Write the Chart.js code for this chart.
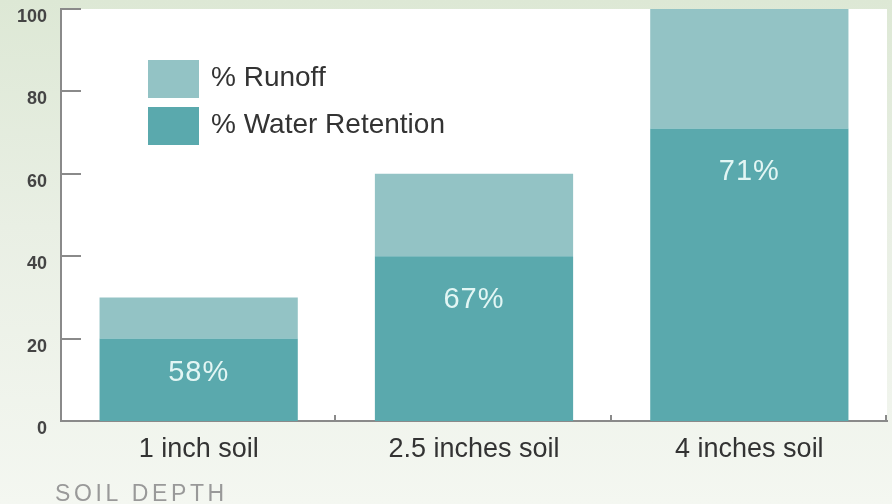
<!DOCTYPE html>
<html>
<head>
<meta charset="utf-8">
<script src="https://cdn.jsdelivr.net/npm/chart.js@4"></script>
<style>
  html, body { margin: 0; padding: 0; }
  body {
    width: 892px; height: 504px; overflow: hidden;
    background: linear-gradient(180deg, #dde8d5 0%, #e9efe4 45%, #f4f7f1 100%);
  }
  #myChart { display: block; }
</style>
</head>
<body>
<canvas id="myChart" width="892" height="504"></canvas>
<script>
const categories = ['1 inch soil', '2.5 inches soil', '4 inches soil'];
const retention = [20, 40, 71];
const runoff = [10, 20, 29];
const retentionLabels = ['58%', '67%', '71%'];
const yTicks = [0, 20, 40, 60, 80, 100];

const ctx = document.getElementById('myChart');

const axisColor = '#8a8a8a';

const decor = {
  id: 'decor',
  beforeDraw(chart) {
    const a = chart.chartArea;
    const c = chart.ctx;
    c.save();
    c.fillStyle = '#ffffff';
    c.fillRect(a.left, a.top, a.right - a.left, a.bottom - a.top);
    c.restore();
  },
  afterDatasetsDraw(chart) {
    const c = chart.ctx;
    // labels inside the retention bars
    const meta = chart.getDatasetMeta(0);
    c.save();
    c.fillStyle = '#e3f6f4';
    c.font = '29px "Liberation Sans", Arial, sans-serif';
    c.letterSpacing = '1px';
    c.textAlign = 'center';
    c.textBaseline = 'middle';
    meta.data.forEach((bar, i) => {
      const h = bar.base - bar.y;
      c.fillText(retentionLabels[i], bar.x, bar.y + Math.min(44, h * 0.42));
    });
    c.restore();
  },
  afterDraw(chart) {
    const c = chart.ctx;
    const a = chart.chartArea;
    const y = chart.scales.y;
    const x = chart.scales.x;
    c.save();
    c.strokeStyle = axisColor;
    c.lineWidth = 2;
    // y tick marks pointing into the plot
    y.ticks.forEach(t => {
      if (t.value === 0) return;
      const py = Math.round(y.getPixelForValue(t.value));
      c.beginPath();
      c.moveTo(a.left, py);
      c.lineTo(a.left + 20, py);
      c.stroke();
    });
    // x tick marks between categories
    const half = (x.getPixelForValue(1) - x.getPixelForValue(0)) / 2;
    categories.forEach((cat, i) => {
      const px = Math.round(x.getPixelForValue(i) + half) - 1;
      c.beginPath();
      c.moveTo(px, a.bottom);
      c.lineTo(px, a.bottom - 6);
      c.stroke();
    });
    c.restore();

    // legend
    const items = [
      { text: '% Runoff', color: chart.data.datasets[1].backgroundColor },
      { text: '% Water Retention', color: chart.data.datasets[0].backgroundColor }
    ];
    c.save();
    c.font = '28px "Liberation Sans", Arial, sans-serif';
    c.textBaseline = 'middle';
    items.forEach((it, i) => {
      const by = 60 + i * 47;
      c.fillStyle = it.color;
      c.fillRect(148, by, 51, 38);
      c.fillStyle = '#333333';
      c.fillText(it.text, 211, by + 18);
    });
    c.restore();

    // axis title
    c.save();
    c.font = '23px "Liberation Sans", Arial, sans-serif';
    c.letterSpacing = '3.6px';
    c.fillStyle = '#999999';
    c.textBaseline = 'alphabetic';
    c.fillText('SOIL DEPTH', 55, 501);
    c.restore();
  }
};

new Chart(ctx, {
  type: 'bar',
  data: {
    labels: categories,
    datasets: [
      {
        label: '% Water Retention',
        data: retention,
        backgroundColor: '#5aa9ad',
        borderWidth: 0,
        categoryPercentage: 0.72,
        barPercentage: 1
      },
      {
        label: '% Runoff',
        data: runoff,
        backgroundColor: '#93c3c5',
        borderWidth: 0,
        categoryPercentage: 0.72,
        barPercentage: 1
      }
    ]
  },
  options: {
    responsive: false,
    animation: false,
    layout: { padding: { top: 9, right: 5, left: 0, bottom: 0 } },
    plugins: {
      legend: { display: false },
      tooltip: { enabled: false }
    },
    scales: {
      x: {
        stacked: true,
        grid: { display: false, drawTicks: false },
        border: { color: axisColor, width: 2 },
        ticks: {
          color: '#333333',
          padding: 12,
          font: { family: '"Liberation Sans", Arial, sans-serif', size: 27 }
        },
        afterFit(scale) {
          scale.height = 83;
          scale.paddingLeft = 0;
          scale.paddingRight = 0;
        }
      },
      y: {
        stacked: true,
        min: 0,
        max: 100,
        grid: { display: false, drawTicks: false },
        border: { color: axisColor, width: 2 },
        afterBuildTicks(scale) { scale.ticks = yTicks.map(v => ({ value: v })); },
        ticks: {
          color: '#444444',
          padding: 14,
          labelOffset: 8,
          font: { family: '"Liberation Sans", Arial, sans-serif', size: 18, weight: 'bold' }
        },
        afterFit(scale) {
          scale.width = 61;
          scale.paddingTop = 0;
          scale.paddingBottom = 0;
        }
      }
    }
  },
  plugins: [decor]
});
</script>
</body>
</html>
